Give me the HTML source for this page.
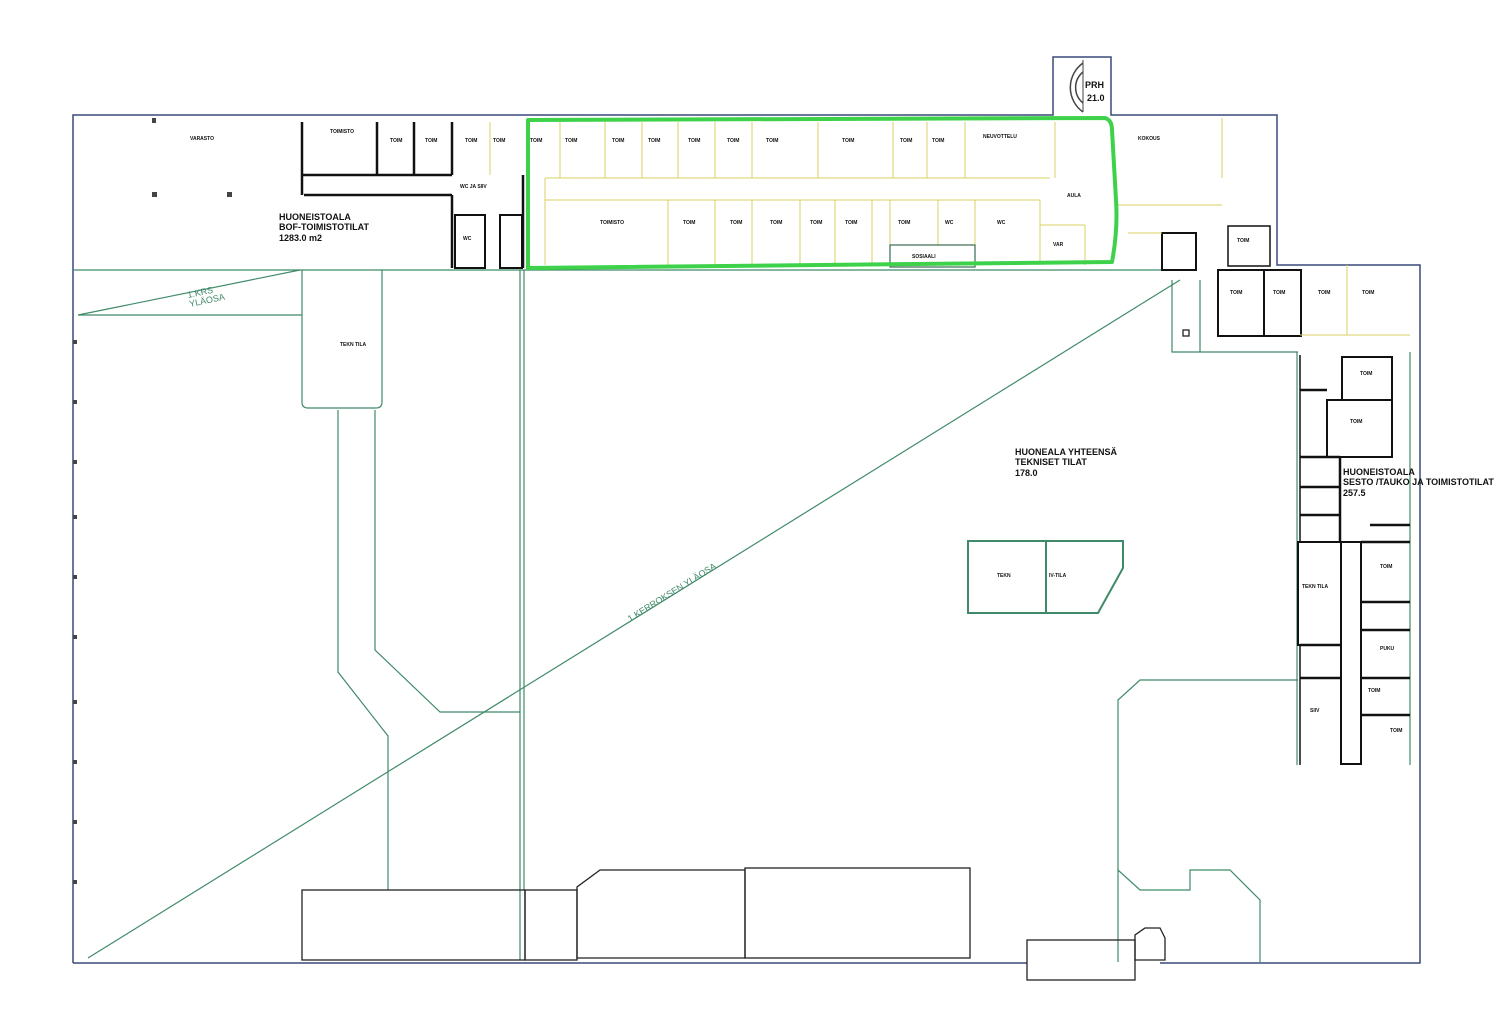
<!DOCTYPE html>
<html><head><meta charset="utf-8"><style>
html,body{margin:0;padding:0;background:#fff;}
svg{display:block}
text{font-family:"Liberation Sans",sans-serif;}
.t{font-size:5px;font-weight:bold;fill:#111}
.L{font-family:"Liberation Sans Narrow","Liberation Sans",sans-serif;font-size:9px;font-weight:bold;fill:#111}
</style></head><body>
<svg width="1500" height="1017" viewBox="0 0 1500 1017" xmlns="http://www.w3.org/2000/svg">
<rect width="1500" height="1017" fill="#fff"/>
<g fill="none" stroke="#3a4a78" stroke-width="1.5">
<polyline points="73,963 73,115 1053,115 1053,57 1111,57 1111,115 1277,115 1277,265 1420,265 1420,963 1160,963"/>
<line x1="73" y1="963" x2="1027" y2="963"/>
</g>
<path d="M1083,63 A30,30 0 0 0 1083,112" fill="none" stroke="#444" stroke-width="1.5"/>
<path d="M1083,72 A20,20 0 0 0 1083,103" fill="none" stroke="#444" stroke-width="1.5"/>
<line x1="1083" y1="60" x2="1083" y2="112" stroke="#444"/>
<text x="1085" y="88" class="L" font-size="11">PRH</text>
<text x="1087" y="101" class="L" font-size="11">21.0</text>
<g fill="none" stroke="#3f8a68" stroke-width="1.2">
<line x1="73" y1="270" x2="1180" y2="270"/>
<line x1="88" y1="958" x2="1180" y2="280"/>
<line x1="78" y1="315" x2="300" y2="270"/>
<line x1="78" y1="315" x2="302" y2="315"/>
<line x1="520" y1="270" x2="520" y2="960"/>
<line x1="524" y1="270" x2="524" y2="890"/>
<path d="M302,270 V402 Q302,408 308,408 H376 Q382,408 382,402 V270"/>
<polyline points="338,410 338,672 388,736 388,890"/>
<polyline points="375,410 375,650 440,712 520,712"/>
<polygon points="968,541 1123,541 1123,568 1098,613 968,613" stroke-width="2"/>
<line x1="1046" y1="541" x2="1046" y2="613" stroke-width="2"/>
<polyline points="1118,962 1118,870 1140,890 1190,890 1190,870 1230,870 1260,900 1260,962"/>
<polyline points="1118,870 1118,700 1140,680 1298,680"/>
<polyline points="1172,280 1172,352 1298,352"/>
<line x1="1200" y1="280" x2="1200" y2="352"/>
<line x1="1297" y1="352" x2="1297" y2="765"/>
<line x1="1410" y1="352" x2="1410" y2="765"/>
</g>
<g fill="none" stroke="#111" stroke-width="2.5">
<line x1="302" y1="122" x2="302" y2="195"/>
<line x1="302" y1="175" x2="452" y2="175"/>
<line x1="377" y1="122" x2="377" y2="175"/>
<line x1="414" y1="122" x2="414" y2="175"/>
<line x1="452" y1="122" x2="452" y2="175"/>
<line x1="304" y1="195" x2="452" y2="195"/>
<line x1="452" y1="195" x2="452" y2="268"/>
<line x1="523" y1="175" x2="523" y2="268"/>
<rect x="455" y="215" width="30" height="53" stroke-width="2"/>
<rect x="500" y="215" width="22" height="53" stroke-width="2"/>
<rect x="1162" y="233" width="34" height="37" stroke-width="2"/>
<rect x="1228" y="226" width="42" height="40" stroke-width="1.5"/>
<rect x="1218" y="270" width="46" height="66" stroke-width="2"/>
<rect x="1264" y="270" width="37" height="66" stroke-width="2"/>
<rect x="1327" y="400" width="65" height="57" stroke-width="2"/>
<rect x="1342" y="357" width="50" height="43" stroke-width="2"/>
<rect x="1298" y="542" width="43" height="103" stroke-width="2"/>
<rect x="1341" y="542" width="20" height="222" stroke-width="2"/>
<line x1="1300" y1="355" x2="1300" y2="542" stroke-width="1.5"/>
<line x1="1300" y1="645" x2="1300" y2="765" stroke-width="1.5"/>
<line x1="1300" y1="645" x2="1341" y2="645"/>
<line x1="1300" y1="678" x2="1341" y2="678"/>
<line x1="1361" y1="602" x2="1410" y2="602"/>
<line x1="1361" y1="630" x2="1410" y2="630"/>
<line x1="1361" y1="678" x2="1410" y2="678"/>
<line x1="1361" y1="715" x2="1410" y2="715"/>
<line x1="1300" y1="457" x2="1340" y2="457"/>
<line x1="1300" y1="487" x2="1340" y2="487"/>
<line x1="1300" y1="515" x2="1340" y2="515"/>
<line x1="1340" y1="457" x2="1340" y2="542"/>
<line x1="1300" y1="390" x2="1327" y2="390"/>
<line x1="1370" y1="525" x2="1410" y2="525"/>
<line x1="1361" y1="542" x2="1410" y2="542"/>
</g>
<g fill="none" stroke="#d9d060" stroke-width="1">
<line x1="490" y1="122" x2="490" y2="175"/>
<line x1="545" y1="178" x2="1050" y2="178"/>
<line x1="545" y1="200" x2="1040" y2="200"/>
<line x1="545" y1="178" x2="545" y2="265"/>
<line x1="560" y1="122" x2="560" y2="178"/><line x1="605" y1="122" x2="605" y2="178"/>
<line x1="642" y1="122" x2="642" y2="178"/><line x1="678" y1="122" x2="678" y2="178"/>
<line x1="715" y1="122" x2="715" y2="178"/><line x1="752" y1="122" x2="752" y2="178"/>
<line x1="818" y1="122" x2="818" y2="178"/><line x1="893" y1="122" x2="893" y2="178"/>
<line x1="927" y1="122" x2="927" y2="178"/><line x1="965" y1="122" x2="965" y2="178"/>
<line x1="1055" y1="122" x2="1055" y2="178"/>
<line x1="668" y1="200" x2="668" y2="265"/><line x1="715" y1="200" x2="715" y2="265"/>
<line x1="752" y1="200" x2="752" y2="265"/><line x1="800" y1="200" x2="800" y2="265"/>
<line x1="835" y1="200" x2="835" y2="265"/><line x1="872" y1="200" x2="872" y2="265"/>
<line x1="890" y1="200" x2="890" y2="265"/><line x1="938" y1="200" x2="938" y2="245"/>
<line x1="975" y1="200" x2="975" y2="245"/><line x1="1040" y1="200" x2="1040" y2="265"/>
<line x1="1040" y1="225" x2="1085" y2="225"/><line x1="1085" y1="225" x2="1085" y2="265"/>
<line x1="1222" y1="118" x2="1222" y2="178"/>
<line x1="1118" y1="205" x2="1222" y2="205"/>
<line x1="1128" y1="233" x2="1162" y2="233"/>
<line x1="1347" y1="265" x2="1347" y2="335"/>
<line x1="1300" y1="335" x2="1347" y2="335"/>
<line x1="1347" y1="335" x2="1410" y2="335"/>
</g>
<rect x="890" y="245" width="85" height="22" fill="none" stroke="#3a6a50" stroke-width="1.2"/>
<path d="M528,120 L1105,118 Q1112,120 1112,130 L1116,200 Q1118,230 1112,262 L528,268 Z" fill="none" stroke="#3ed24a" stroke-width="4" stroke-linejoin="round"/>
<g fill="none" stroke="#222" stroke-width="1.3">
<rect x="302" y="890" width="223" height="70"/>
<rect x="525" y="890" width="52" height="70"/>
<polygon points="577,958 577,887 600,870 745,870 745,958"/>
<rect x="745" y="868" width="225" height="90"/>
<rect x="1027" y="940" width="108" height="40"/>
<polygon points="1135,960 1135,935 1145,928 1160,928 1165,938 1165,960"/>
<rect x="1183" y="330" width="6" height="6"/>
</g>
<g fill="#444">
<rect x="73" y="340" width="4" height="4"/><rect x="73" y="400" width="4" height="4"/><rect x="73" y="460" width="4" height="4"/><rect x="73" y="515" width="4" height="4"/><rect x="73" y="575" width="4" height="4"/><rect x="73" y="635" width="4" height="4"/><rect x="73" y="700" width="4" height="4"/><rect x="73" y="760" width="4" height="4"/><rect x="73" y="820" width="4" height="4"/><rect x="73" y="880" width="4" height="4"/>
<rect x="152" y="192" width="5" height="5"/><rect x="227" y="192" width="5" height="5"/><rect x="152" y="118" width="4" height="5"/>
</g>
<text class="L" x="279" y="220">HUONEISTOALA</text>
<text class="L" x="279" y="230">BOF-TOIMISTOTILAT</text>
<text class="L" x="279" y="241">1283.0 m2</text>
<text class="L" x="1015" y="455">HUONEALA YHTEENSÄ</text>
<text class="L" x="1015" y="465">TEKNISET TILAT</text>
<text class="L" x="1015" y="476">178.0</text>
<text class="L" x="1343" y="475">HUONEISTOALA</text>
<text class="L" x="1343" y="485">SESTO /TAUKO JA TOIMISTOTILAT</text>
<text class="L" x="1343" y="496">257.5</text>
<text class="L" style="fill:#3f8a68;font-weight:normal" transform="translate(188,298) rotate(-12)">1.KRS</text>
<text class="L" style="fill:#3f8a68;font-weight:normal" transform="translate(190,307) rotate(-12)">YLÄOSA</text>
<text class="L" style="fill:#3f8a68;font-weight:normal" transform="translate(630,622) rotate(-32)">1.KERROKSEN YLÄOSA</text>
<g class="t">
<text x="190" y="140">VARASTO</text><text x="330" y="133">TOIMISTO</text><text x="390" y="142">TOIM</text><text x="425" y="142">TOIM</text><text x="465" y="142">TOIM</text><text x="493" y="142">TOIM</text>
<text x="530" y="142">TOIM</text><text x="565" y="142">TOIM</text><text x="612" y="142">TOIM</text><text x="648" y="142">TOIM</text><text x="688" y="142">TOIM</text><text x="727" y="142">TOIM</text><text x="766" y="142">TOIM</text><text x="842" y="142">TOIM</text><text x="900" y="142">TOIM</text><text x="932" y="142">TOIM</text><text x="983" y="138">NEUVOTTELU</text><text x="1138" y="140">KOKOUS</text>
<text x="460" y="188">WC JA SIIV</text><text x="463" y="240">WC</text><text x="600" y="224">TOIMISTO</text><text x="683" y="224">TOIM</text><text x="730" y="224">TOIM</text><text x="770" y="224">TOIM</text><text x="810" y="224">TOIM</text><text x="845" y="224">TOIM</text><text x="898" y="224">TOIM</text><text x="945" y="224">WC</text><text x="997" y="224">WC</text><text x="1067" y="197">AULA</text><text x="1053" y="246">VAR</text>
<text x="912" y="258">SOSIAALI</text><text x="340" y="346">TEKN TILA</text><text x="997" y="577">TEKN</text><text x="1049" y="577">IV-TILA</text>
<text x="1237" y="242">TOIM</text><text x="1230" y="294">TOIM</text><text x="1273" y="294">TOIM</text><text x="1318" y="294">TOIM</text><text x="1362" y="294">TOIM</text><text x="1350" y="423">TOIM</text><text x="1360" y="375">TOIM</text><text x="1380" y="568">TOIM</text><text x="1302" y="588">TEKN TILA</text><text x="1380" y="650">PUKU</text><text x="1368" y="692">TOIM</text><text x="1390" y="732">TOIM</text><text x="1310" y="712">SIIV</text>
</g>
</svg>
</body></html>
